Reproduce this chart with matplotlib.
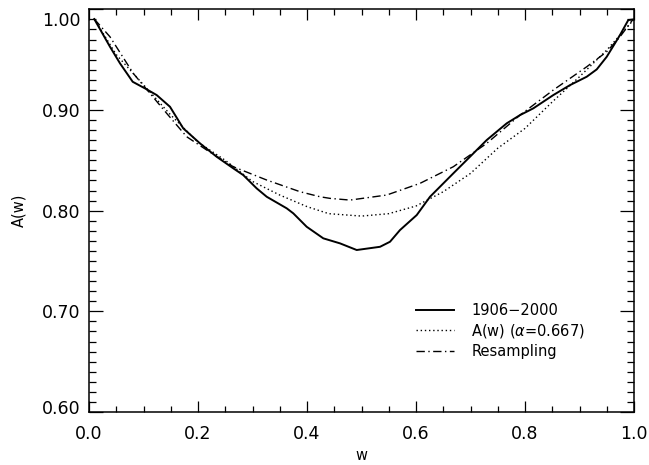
import matplotlib
matplotlib.use('Agg')
import matplotlib.pyplot as plt
from matplotlib.ticker import MultipleLocator, FixedLocator
from matplotlib.transforms import ScaledTranslation

# 1906-2000 (solid)
w_obs = [0.0097, 0.0385, 0.0569, 0.0802, 0.1059, 0.1242, 0.1486, 0.173,
         0.2037, 0.2343, 0.2648, 0.2831, 0.3077, 0.3261, 0.3628, 0.3749,
         0.3994, 0.4299, 0.4606, 0.4912, 0.534, 0.5523, 0.5706, 0.6013,
         0.6257, 0.6684, 0.699, 0.7297, 0.7664, 0.7908, 0.8152, 0.8519,
         0.8826, 0.9132, 0.9316, 0.9499, 0.9743, 0.9895, 1.0]
a_obs = [0.9903, 0.9628, 0.9463, 0.928, 0.9205, 0.9148, 0.9032, 0.8817,
         0.8668, 0.8535, 0.842, 0.8353, 0.8221, 0.8138, 0.8023, 0.7973,
         0.784, 0.7725, 0.7675, 0.7609, 0.7641, 0.7691, 0.7807, 0.7956,
         0.8138, 0.837, 0.8535, 0.8701, 0.8867, 0.8949, 0.9016, 0.9148,
         0.9247, 0.933, 0.9403, 0.9528, 0.9744, 0.9893, 0.99]

# A(w), alpha = 0.667 (dotted)
w_fit = [0.0097, 0.05, 0.1, 0.15, 0.2, 0.25, 0.3, 0.35, 0.4, 0.44, 0.5,
         0.55, 0.6, 0.65, 0.7, 0.75, 0.8, 0.85, 0.9, 0.95, 1.0]
a_fit = [0.9903, 0.955, 0.925, 0.895, 0.868, 0.850, 0.829, 0.8155, 0.804,
         0.797, 0.7946, 0.797, 0.8046, 0.8188, 0.837, 0.862, 0.8817, 0.908,
         0.933, 0.9595, 0.99]

# Resampling (dash-dot)
w_res = [0.0097, 0.0385, 0.0813, 0.1119, 0.1426, 0.1793, 0.216, 0.2648,
         0.3261, 0.3872, 0.4239, 0.4422, 0.4789, 0.5462, 0.6073, 0.6684,
         0.7297, 0.7908, 0.8519, 0.9132, 0.9499, 0.9743, 0.9982]
a_res = [0.9903, 0.9727, 0.9363, 0.9165, 0.8966, 0.8734, 0.8602, 0.8436,
         0.8304, 0.8188, 0.8138, 0.8122, 0.8105, 0.8155, 0.8271, 0.8436,
         0.8668, 0.8949, 0.9198, 0.9429, 0.9578, 0.9727, 0.99]

labels = ['1906\u22122000', 'A(w) ($\\alpha$=0.667)', 'Resampling']
y_ticks = [0.60, 0.70, 0.80, 0.90, 1.00]
x_ticks = [0.0, 0.2, 0.4, 0.6, 0.8, 1.0]

tick_font_size = 12.5
label_font_size = 10.5
legend_font_size = 10.5

fig = plt.figure(figsize=(6.49, 4.65), dpi=100)
ax = fig.add_axes([89 / 649, 53 / 465, 545 / 649, 402.7 / 465])

ax.plot(w_obs, a_obs, color='black', linestyle='-', linewidth=1.4,
        label=labels[0])
ax.plot(w_fit, a_fit, color='black', linestyle=(0, (1, 2)), linewidth=1.0,
        label=labels[1])
ax.plot(w_res, a_res, color='black', linestyle=(0, (6, 2.5, 1, 2.5)),
        linewidth=1.0, label=labels[2])

ax.set_xlim(0, 1)
ax.set_ylim(0.6, 1.0)
ax.xaxis.set_major_locator(FixedLocator(x_ticks))
ax.yaxis.set_major_locator(FixedLocator(y_ticks))
ax.xaxis.set_minor_locator(MultipleLocator(0.05))
ax.yaxis.set_minor_locator(MultipleLocator(0.01))
ax.set_xticklabels(['%.1f' % v for v in x_ticks])
ax.set_yticklabels(['%.2f' % v for v in y_ticks])

ax.tick_params(axis='both', which='both', direction='in', top=True,
               right=True, width=0.9, colors='black',
               labelsize=tick_font_size)
ax.tick_params(axis='y', which='major', length=10, pad=6)
ax.tick_params(axis='y', which='minor', length=5)
ax.tick_params(axis='x', which='major', length=8, pad=9)
ax.tick_params(axis='x', which='minor', length=4)
for s in ax.spines.values():
    s.set_linewidth(1.1)

ax.set_xlabel('w', fontsize=label_font_size, labelpad=4)
ax.set_ylabel('A(w)', fontsize=label_font_size, labelpad=11)

leg = ax.legend(
    loc='center left',
    bbox_to_anchor=(416 / 649, 1 - 331 / 465),
    bbox_transform=fig.transFigure,
    frameon=False,
    fontsize=legend_font_size,
    handlelength=2.6,
    handletextpad=1.2,
    labelspacing=0.3,
    borderpad=0,
    borderaxespad=0,
)

# edge tick labels sit slightly inside the box, as in the original
yt = ax.yaxis.get_major_ticks()
yt[0].label1.set_transform(yt[0].label1.get_transform() +
                           ScaledTranslation(0, 5 / 100, fig.dpi_scale_trans))
yt[-1].label1.set_transform(yt[-1].label1.get_transform() +
                            ScaledTranslation(0, -10 / 100, fig.dpi_scale_trans))

plt.savefig('out.png', dpi=100)
